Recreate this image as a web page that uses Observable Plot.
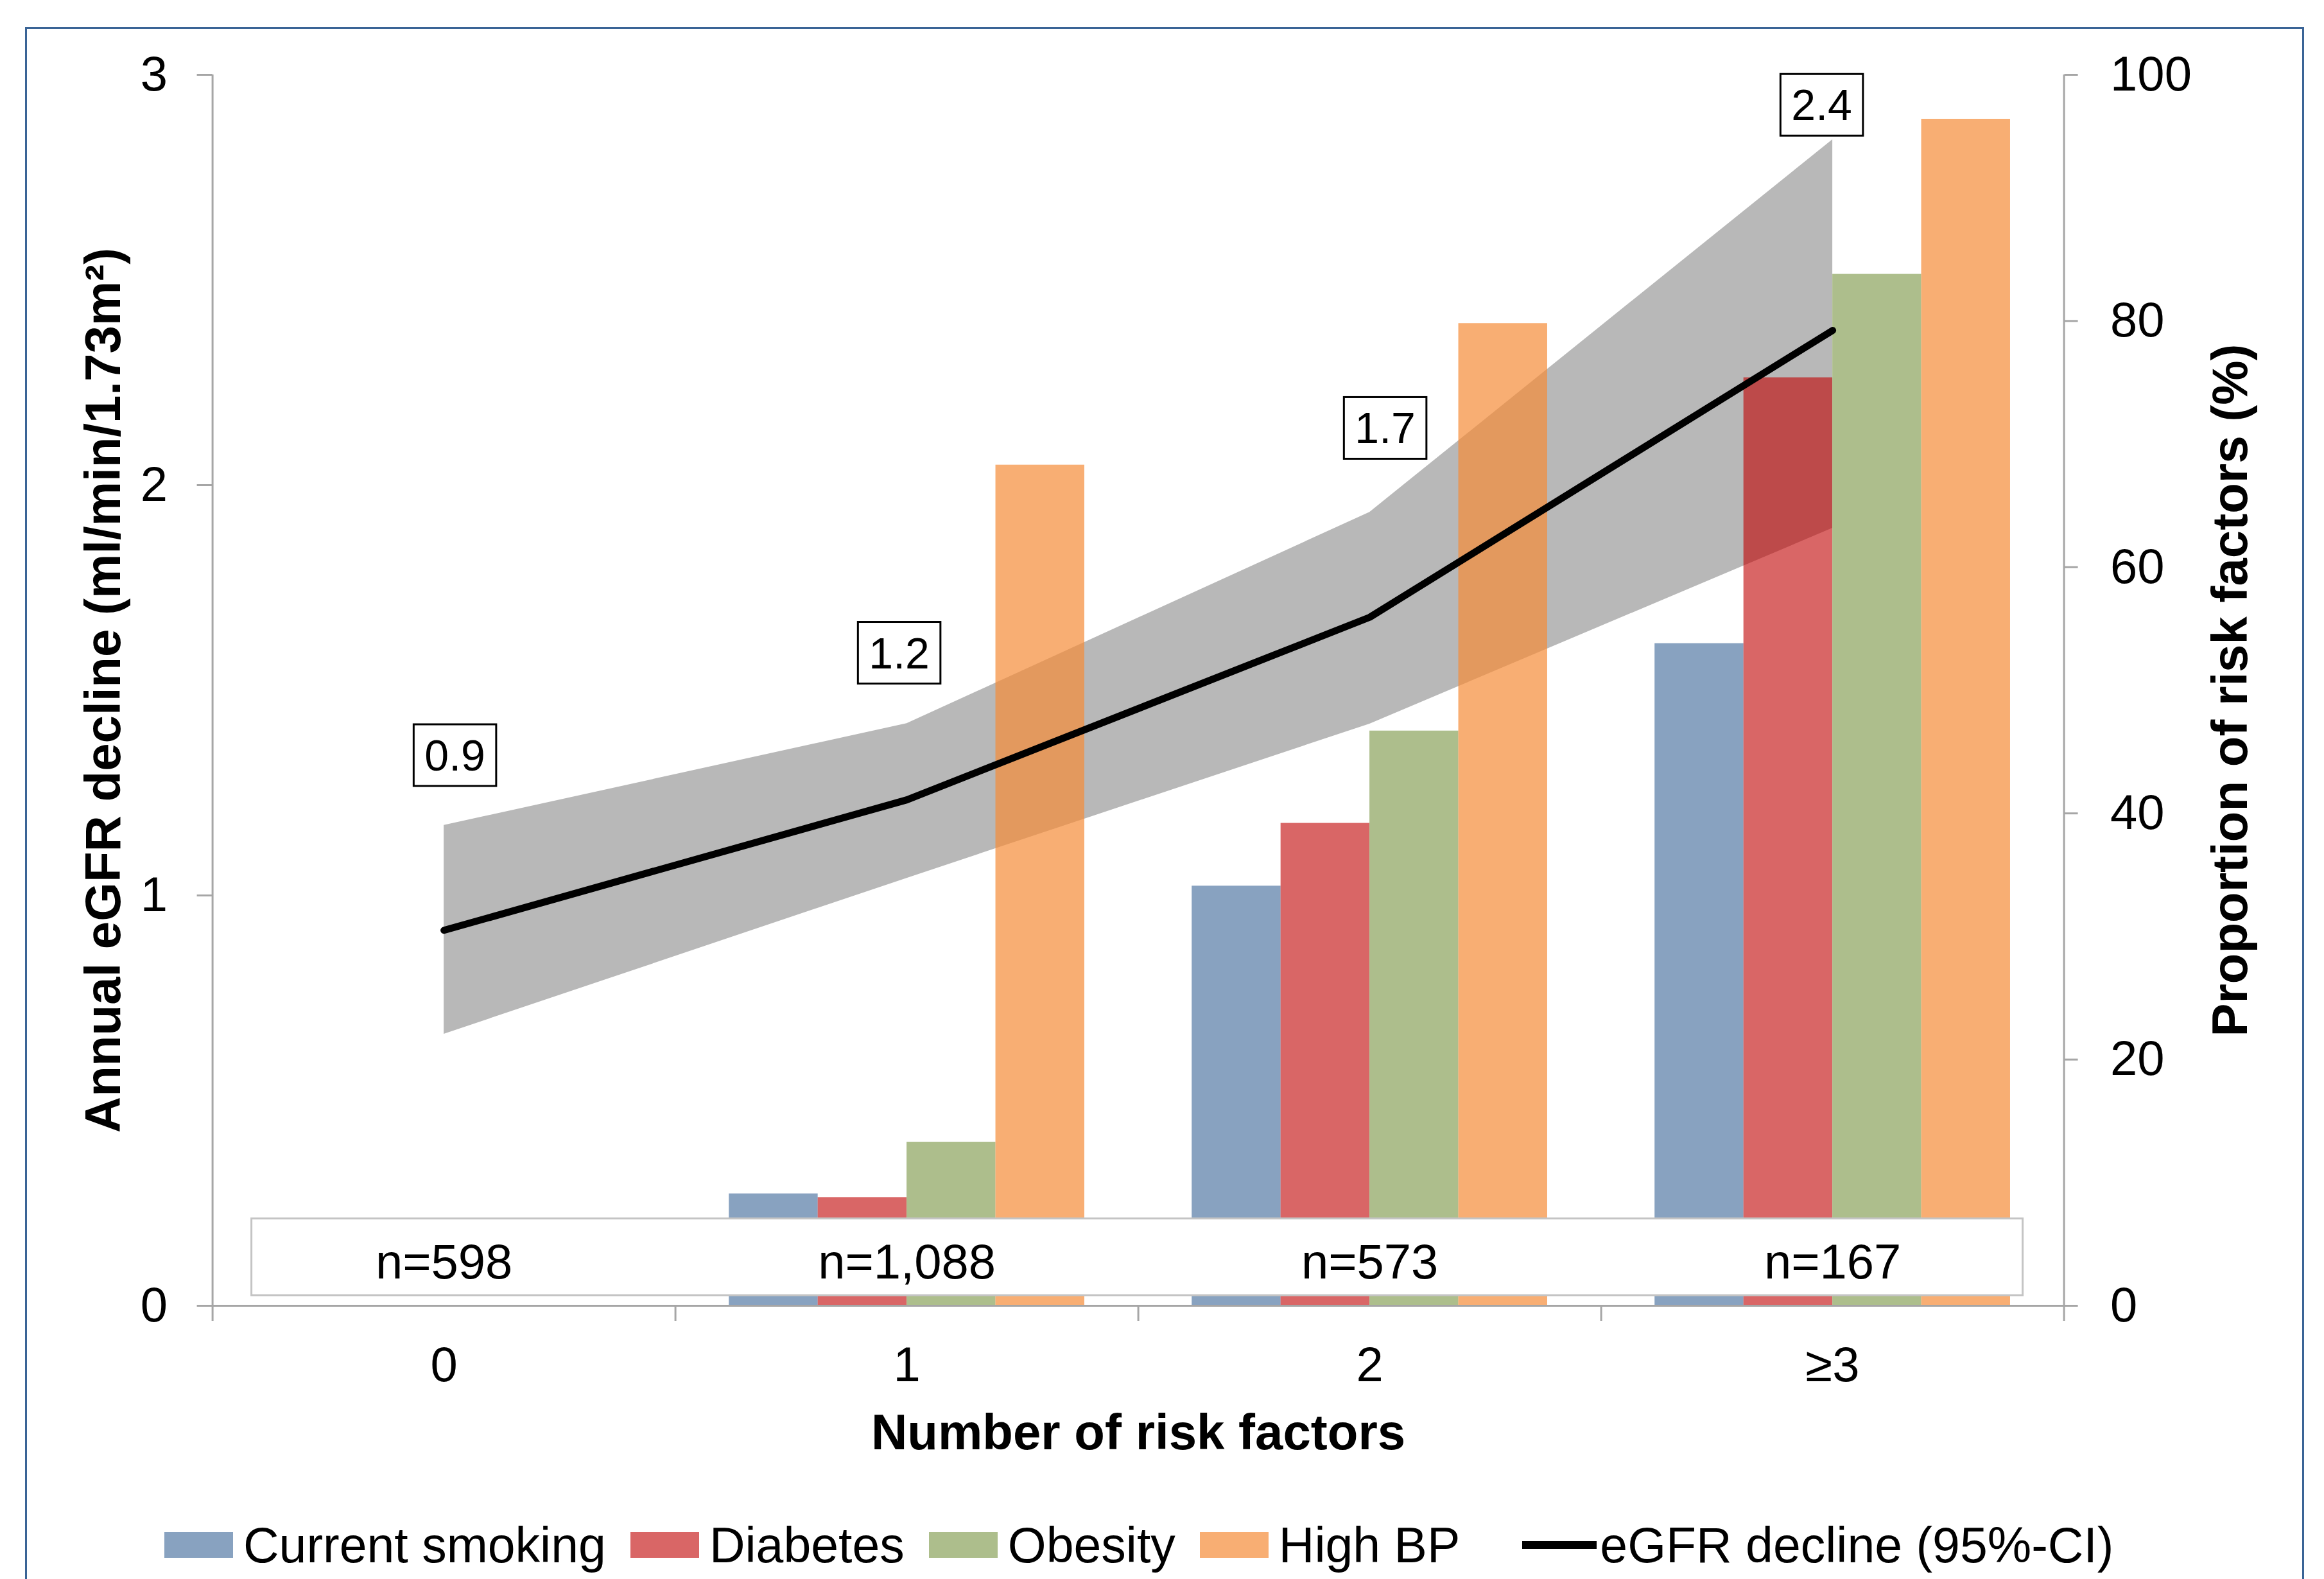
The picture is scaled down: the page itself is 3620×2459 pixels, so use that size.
<!DOCTYPE html>
<html>
<head>
<meta charset="utf-8">
<script src="https://cdn.jsdelivr.net/npm/d3@7"></script>
<script src="https://cdn.jsdelivr.net/npm/@observablehq/plot@0.6"></script>
<style>
  html, body { margin: 0; padding: 0; background: #ffffff; }
  body { width: 3620px; height: 2459px; position: relative; overflow: hidden;
         font-family: "Liberation Sans", Arial, sans-serif; color: #000; }
  #chart { position: absolute; left: 0; top: 0; }
  #frame { position: absolute; left: 39px; top: 42px; width: 3550px; height: 2600px;
           border: 3px solid #3a6496; box-sizing: border-box; pointer-events: none; }
  #legend { position: absolute; left: 256px; top: 2371px; height: 70px; display: flex;
            align-items: center; font-size: 77px; white-space: nowrap; }
  .item { display: flex; align-items: center; margin-right: 38px; }
  .sw { width: 107px; height: 40px; margin-right: 16px; }
  .ln { width: 116px; height: 12px; background: #000; margin-right: 5px; }
  .item.lineitem { margin-left: 59px; }
</style>
</head>
<body>
<div id="chart"></div>
<div id="legend"></div>
<div id="frame"></div>
<script>
// ---------------- data ----------------
const categories = ["0", "1", "2", "≥3"];
const sampleSizes = ["n=598", "n=1,088", "n=573", "n=167"];
const declineMean = [0.915, 1.233, 1.678, 2.377];
const declineLower = [0.662, 1.042, 1.418, 1.895];
const declineUpper = [1.171, 1.419, 1.934, 2.842];
const declineLabels = ["0.9", "1.2", "1.7", "2.4"];
const seriesNames = ["Current smoking", "Diabetes", "Obesity", "High BP"];
const currentSmoking = [0, 9.1, 34.1, 53.8];
const diabetes = [0, 8.8, 39.2, 75.4];
const obesity = [0, 13.3, 46.7, 83.8];
const highBP = [0, 68.3, 79.8, 96.4];
const leftTicks = [0, 1, 2, 3];
const rightTicks = [0, 20, 40, 60, 80, 100];
const yLeftTitle = "Annual eGFR decline (ml/min/1.73m²)";
const yRightTitle = "Proportion of risk factors (%)";
const xTitle = "Number of risk factors";
const lineLegend = "eGFR decline (95%-CI)";

// ---------------- styling ----------------
const seriesValues = [currentSmoking, diabetes, obesity, highBP];
const seriesFill = ["#88a2c0", "#c00000", "#adbe8c", "#f58b37"];
const seriesOpacity = [1, 0.6, 1, 0.7];
const legendFill = ["#88a2c0", "#d96666", "#adbe8c", "#f8ae73"];
const axisGray = "#a6a6a6";
const pctToLeft = 3 / 100;     // right axis 0-100 % mapped on left axis 0-3
const barW = 0.192;            // bar width in category units
const labelNudge = [[17, -107], [-12, -108], [24, -129], [-17, -52]]; // label box nudges (px)
const xDomain = [-0.5, categories.length - 0.5];
const boundaries = d3.range(categories.length + 1).map(i => i - 0.5);

const bars = [];
seriesNames.forEach((s, si) => categories.forEach((c, ci) =>
  bars.push({series: s, si, ci, pct: seriesValues[si][ci]})));
const rows = categories.map((c, i) => ({
  i, cat: c, mean: declineMean[i], lo: declineLower[i], hi: declineUpper[i],
  label: declineLabels[i], n: sampleSizes[i]
}));

const svg = Plot.plot({
  width: 3620,
  height: 2300,
  marginLeft: 330.6,
  marginRight: 405.4,
  marginTop: 116,
  marginBottom: 267,
  style: {fontFamily: "'Liberation Sans', Arial, sans-serif", fontSize: "76px", background: "transparent", color: "#000"},
  x: {type: "linear", domain: xDomain},
  y: {type: "linear", domain: [0, 3]},
  marks: [
    Plot.areaY(rows, {x: "i", y1: "lo", y2: "hi", fill: "#b8b8b8"}),
    ...seriesNames.map((s, si) => Plot.rectY(
      bars.filter(d => d.si === si && d.pct > 0),
      {x1: d => d.ci + (si - 2) * barW, x2: d => d.ci + (si - 1) * barW,
       y1: 0, y2: d => d.pct * pctToLeft,
       fill: seriesFill[si], fillOpacity: seriesOpacity[si]})),
    Plot.lineY(rows, {x: "i", y: "mean", stroke: "#000", strokeWidth: 11,
                      strokeLinecap: "round", strokeLinejoin: "round"}),
    // axis lines and ticks
    Plot.ruleY([0], {stroke: axisGray, strokeWidth: 3}),
    Plot.ruleX(xDomain, {stroke: axisGray, strokeWidth: 3}),
    Plot.axisX(boundaries, {anchor: "bottom", tickSize: 24, tickFormat: () => "",
                            stroke: axisGray, strokeWidth: 3, label: null}),
    Plot.axisY(leftTicks, {anchor: "left", tickSize: 24, tickFormat: () => "",
                           stroke: axisGray, strokeWidth: 3, label: null}),
    Plot.axisY(leftTicks, {anchor: "left", tickSize: 0, tickPadding: 70,
                           tickFormat: d => String(d), fontSize: 76, label: null}),
    Plot.axisY(rightTicks.map(p => p * pctToLeft), {anchor: "right", tickSize: 21,
                           tickFormat: () => "", stroke: axisGray, strokeWidth: 3, label: null}),
    Plot.axisY(rightTicks.map(p => p * pctToLeft), {anchor: "right", tickSize: 0, tickPadding: 72,
                           tickFormat: d => String(Math.round(d / pctToLeft)), fontSize: 76, label: null}),
    // category labels
    Plot.text(rows, {x: "i", text: "cat", frameAnchor: "bottom", dy: 93,
                     lineAnchor: "middle", fontSize: 76}),
    // sample size box
    Plot.rect([0], {x1: xDomain[0], x2: xDomain[1], y1: 0, y2: 0,
                    insetLeft: 61, insetRight: 64, insetTop: -135.5, insetBottom: 16,
                    fill: "#ffffff", stroke: "#c4c4c4", strokeWidth: 3}),
    Plot.text(rows, {x: "i", y: 0, text: "n", dy: -67, lineAnchor: "middle", fontSize: 76}),
    // value labels (one mark per label so each can be nudged like the original)
    ...rows.map((r, k) => Plot.text(rows, {filter: d => d.i === k, x: "i", y: "hi", text: "label",
                     dx: labelNudge[k][0], dy: labelNudge[k][1],
                     lineAnchor: "middle", fontSize: 68})),
    // titles
    Plot.text([yLeftTitle], {text: d => d, frameAnchor: "left", dx: -168.6, rotate: -90,
                             textAnchor: "middle", fontWeight: "bold", fontSize: 78, lineAnchor: "middle"}),
    Plot.text([yRightTitle], {text: d => d, frameAnchor: "right", dx: 260, rotate: -90,
                              textAnchor: "middle", fontWeight: "bold", fontSize: 78, lineAnchor: "middle"}),
    Plot.text([xTitle], {text: d => d, frameAnchor: "bottom", dy: 199,
                         textAnchor: "middle", fontWeight: "bold", fontSize: 78, lineAnchor: "middle"})
  ]
});
document.getElementById("chart").append(svg);

// boxes around the value labels
const labelSet = new Set(declineLabels);
svg.querySelectorAll("text").forEach(t => {
  if (!labelSet.has(t.textContent)) return;
  const b = t.getBBox();
  const r = document.createElementNS("http://www.w3.org/2000/svg", "rect");
  r.setAttribute("x", b.x - 17);
  r.setAttribute("y", b.y - 10);
  r.setAttribute("width", b.width + 34);
  r.setAttribute("height", b.height + 20);
  r.setAttribute("fill", "#ffffff");
  r.setAttribute("stroke", "#000");
  r.setAttribute("stroke-width", 3);
  const tr = t.getAttribute("transform");
  if (tr) r.setAttribute("transform", tr);
  t.parentNode.insertBefore(r, t);
});

// legend
const legend = document.getElementById("legend");
seriesNames.forEach((s, si) => {
  const it = document.createElement("div");
  it.className = "item";
  const sw = document.createElement("div");
  sw.className = "sw";
  sw.style.background = legendFill[si];
  const tx = document.createElement("span");
  tx.textContent = s;
  it.append(sw, tx);
  legend.append(it);
});
const li = document.createElement("div");
li.className = "item lineitem";
const ln = document.createElement("div");
ln.className = "ln";
const lt = document.createElement("span");
lt.textContent = lineLegend;
li.append(ln, lt);
legend.append(li);
</script>
</body>
</html>
